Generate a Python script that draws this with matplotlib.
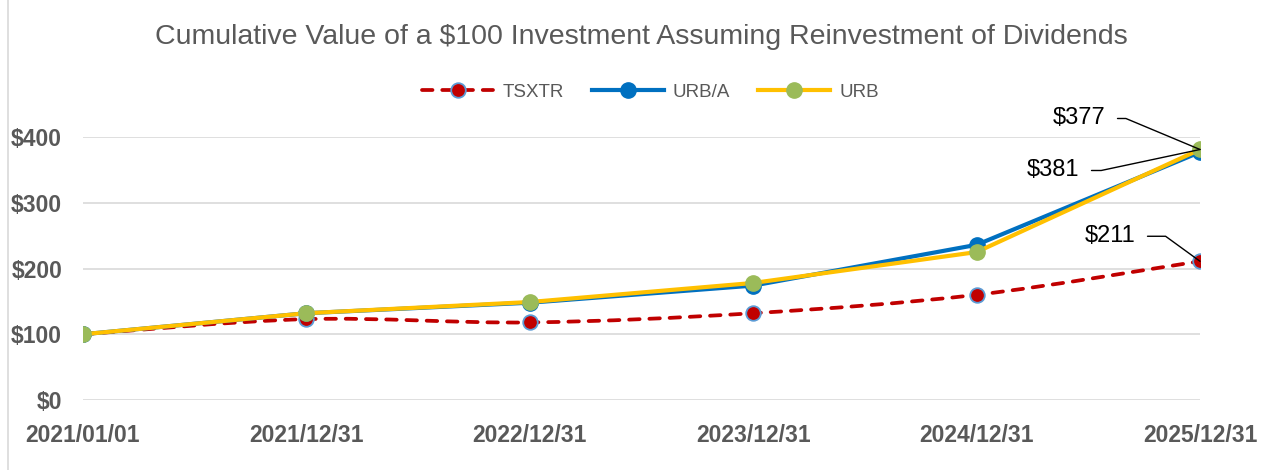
import matplotlib
matplotlib.use("Agg")
import matplotlib.pyplot as plt
from matplotlib.path import Path
from matplotlib.patches import PathPatch
from matplotlib.lines import Line2D
import numpy as np

dates = ["2021/01/01", "2021/12/31", "2022/12/31", "2023/12/31", "2024/12/31", "2025/12/31"]
tsxtr = [100, 123, 118, 132, 160, 211]
urb_a = [100, 132, 148, 174, 236, 377]
urb = [100, 132, 149, 178, 225, 381]
y_ticks = [0, 100, 200, 300, 400]

grey = "#595959"
red = "#c00000"
blue = "#0070c0"
yellow = "#ffc000"
green = "#9bbb59"
edge_blue = "#5b9bd5"

plt.rcParams["font.family"] = ["Liberation Sans", "DejaVu Sans"]

fig = plt.figure(figsize=(12.63, 4.70), dpi=100)
ax = fig.add_axes([83/1263, 70/470, 1117/1263, 263/470])

x = np.arange(len(dates))


def smooth_path(xs, ys):
    # excel style smoothed line: cubic bezier through the points
    pts = np.column_stack([xs, ys]).astype(float)
    verts = [pts[0]]
    codes = [Path.MOVETO]
    n = len(pts)
    for i in range(n - 1):
        p0 = pts[max(i - 1, 0)]
        p1 = pts[i]
        p2 = pts[i + 1]
        p3 = pts[min(i + 2, n - 1)]
        c1 = p1 + (p2 - p0) / 6
        c2 = p2 - (p3 - p1) / 6
        verts += [c1, c2, p2]
        codes += [Path.CURVE4] * 3
    return Path(verts, codes)


red_line = PathPatch(smooth_path(x, tsxtr), fill=False, edgecolor=red, lw=2.7,
                     linestyle=(0, (2.8, 2.6)), capstyle="round", zorder=3)
ax.add_patch(red_line)
ax.plot(x, tsxtr, ls="none", marker="o", ms=10.5, mfc=red, mec=edge_blue, mew=1.3, zorder=3)
ax.plot(x, urb_a, color=blue, lw=3, marker="o", ms=11, mfc=blue, mec=blue, zorder=4)
ax.plot(x, urb, color=yellow, lw=3, marker="o", ms=11, mfc=green, mec=green, zorder=5)

ax.set_xlim(0, len(dates) - 1)
ax.set_ylim(0, 400)
ax.set_yticks(y_ticks)
ax.set_yticklabels([f"${v}" for v in y_ticks])
ax.set_xticks(x)
ax.set_xticklabels(dates)
for s in ax.spines.values():
    s.set_visible(False)
ax.grid(axis="y", color="#d9d9d9", lw=1.2)
ax.set_axisbelow(True)
ax.tick_params(length=0, labelcolor=grey, labelsize=16.5)
ax.tick_params(axis="y", pad=15)
ax.tick_params(axis="x", pad=17)
for lab in ax.get_xticklabels() + ax.get_yticklabels():
    lab.set_fontweight("bold")

# data labels with leader lines
labels = [(urb_a[-1], (-95, 31), 22.7), (urb[-1], (-121, -21), -12), (tsxtr[-1], (-65, 25), 36)]
for (val, off, ang), yv in zip(labels, [urb[-1], urb[-1], tsxtr[-1]]):
    ax.annotate(f"${val}", xy=(x[-1], yv), xytext=off, textcoords="offset pixels",
                ha="right", va="center", fontsize=17, color="black", zorder=6,
                annotation_clip=False,
                arrowprops=dict(arrowstyle="-", color="black", lw=1,
                                shrinkA=7, shrinkB=0, relpos=(1, 0.5),
                                connectionstyle=f"angle,angleA=0,angleB={180 - ang}"))

handles = [
    Line2D([], [], color=red, lw=2.7, ls=(0, (2.8, 2.6)), dash_capstyle="round",
           marker="o", ms=10.5, mfc=red, mec=edge_blue, mew=1.3),
    Line2D([], [], color=blue, lw=3, marker="o", ms=11, mfc=blue, mec=blue),
    Line2D([], [], color=yellow, lw=3, marker="o", ms=11, mfc=green, mec=green),
]
fig.legend(handles, ["TSXTR", "URB/A", "URB"], loc="center", bbox_to_anchor=(0.515, 0.804),
           ncol=3, frameon=False, fontsize=13.5, handlelength=3.8, columnspacing=1.5,
           handletextpad=0.5, labelcolor=grey)

fig.text(0.508, 1 - 37/470, "Cumulative Value of a $100 Investment Assuming Reinvestment of Dividends",
         ha="center", va="center", fontsize=20.5, color=grey)

fig.add_artist(Line2D([8/1263, 8/1263], [0, 1], color="#d9d9d9", lw=1.2))

fig.savefig("out.png", dpi=100)
